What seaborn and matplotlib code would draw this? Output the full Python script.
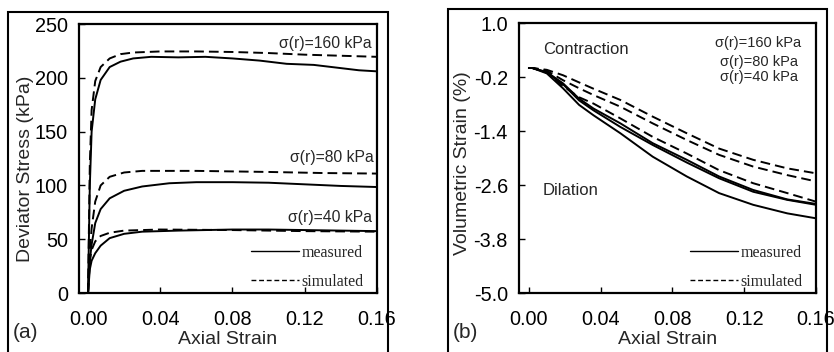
import numpy as np
import pandas as pd
import seaborn as sns
import matplotlib
matplotlib.use("Agg")
import matplotlib.pyplot as plt
from matplotlib.lines import Line2D
from matplotlib.patches import Rectangle

# ---------------- data: panel (a) deviator stress ----------------
a160_sim_x = [0, 0.001, 0.002, 0.004, 0.007, 0.012, 0.018, 0.025, 0.04, 0.06, 0.08, 0.10, 0.12, 0.14, 0.16]
a160_sim_y = [0, 120, 170, 197, 210, 218, 222, 223.5, 224.5, 224.5, 224, 223, 221.5, 220.5, 219.5]
a160_mea_x = [0, 0.001, 0.002, 0.004, 0.007, 0.012, 0.018, 0.025, 0.035, 0.05, 0.065, 0.08, 0.095, 0.11, 0.125, 0.14, 0.15, 0.16]
a160_mea_y = [0, 100, 150, 180, 198, 210, 215, 218, 219.5, 219, 219.5, 218, 216, 213, 212, 209, 207, 206]

a80_sim_x = [0, 0.001, 0.002, 0.004, 0.007, 0.012, 0.02, 0.03, 0.06, 0.10, 0.13, 0.16]
a80_sim_y = [0, 40, 60, 85, 100, 108, 112, 113.5, 113.5, 112.5, 111.5, 111]
a80_mea_x = [0, 0.001, 0.002, 0.004, 0.007, 0.012, 0.02, 0.03, 0.045, 0.06, 0.08, 0.10, 0.12, 0.14, 0.16]
a80_mea_y = [0, 30, 45, 65, 78, 88, 95, 99, 102, 103, 103, 102.5, 101, 99.5, 98.5]

a40_sim_x = [0, 0.001, 0.002, 0.004, 0.007, 0.012, 0.02, 0.04, 0.08, 0.12, 0.16]
a40_sim_y = [0, 30, 40, 48, 53, 56, 58, 59, 58.5, 57.5, 57]
a40_mea_x = [0, 0.001, 0.002, 0.004, 0.007, 0.012, 0.02, 0.03, 0.05, 0.08, 0.10, 0.12, 0.14, 0.16]
a40_mea_y = [0, 22, 30, 37, 44, 51, 55, 57, 58, 59, 59, 58.5, 58, 57.5]

# ---------------- data: panel (b) volumetric strain ----------------
b_x = [0, 0.002, 0.01, 0.019, 0.028, 0.036, 0.051, 0.069, 0.088, 0.106, 0.125, 0.144, 0.16]
b_sim_1 = [0, 0, -0.04, -0.16, -0.32, -0.46, -0.71, -1.08, -1.45, -1.79, -2.04, -2.23, -2.34]
b_sim_2 = [0, 0, -0.06, -0.27, -0.45, -0.60, -0.86, -1.23, -1.60, -1.93, -2.19, -2.38, -2.52]
b_sim_3 = [0, 0, -0.10, -0.40, -0.65, -0.79, -1.12, -1.53, -1.90, -2.27, -2.56, -2.78, -2.97]
b_mea_1 = [0, 0, -0.09, -0.34, -0.68, -0.90, -1.23, -1.67, -2.04, -2.41, -2.71, -2.92, -3.02]
b_mea_2 = [0, 0, -0.10, -0.36, -0.72, -0.94, -1.31, -1.71, -2.10, -2.45, -2.75, -2.93, -3.04]
b_mea_3 = [0, 0, -0.12, -0.45, -0.82, -1.05, -1.45, -1.97, -2.41, -2.78, -3.04, -3.23, -3.34]

a_yticks = [0, 50, 100, 150, 200, 250]
b_yticks = [1.0, -0.2, -1.4, -2.6, -3.8, -5.0]
xticks = [0.00, 0.04, 0.08, 0.12, 0.16]
pressure_labels = ["σ(r)=160 kPa", "σ(r)=80 kPa", "σ(r)=40 kPa"]
legend_labels = ["measured", "simulated"]

# ---------------- style ----------------
sns.set_theme(style="ticks")
plt.rcParams["font.family"] = ["Liberation Sans", "DejaVu Sans"]

fig = plt.figure(figsize=(8.34, 3.52), dpi=100)
axA = fig.add_axes([0.0947, 0.1676, 0.3573, 0.7642])
axB = fig.add_axes([0.6223, 0.1676, 0.3561, 0.7670])

DASH = (0, (5, 2.6))
LW = 1.4

def draw(ax, xs, ys, dashed):
    sns.lineplot(x=xs, y=ys, ax=ax, color="black", lw=LW, estimator=None, sort=False,
                 linestyle=DASH if dashed else "-")

for xs, ys in [(a160_mea_x, a160_mea_y), (a80_mea_x, a80_mea_y), (a40_mea_x, a40_mea_y)]:
    draw(axA, xs, ys, False)
for xs, ys in [(a160_sim_x, a160_sim_y), (a80_sim_x, a80_sim_y), (a40_sim_x, a40_sim_y)]:
    draw(axA, xs, ys, True)
for ys in [b_mea_1, b_mea_2, b_mea_3]:
    draw(axB, b_x, ys, False)
for ys in [b_sim_1, b_sim_2, b_sim_3]:
    draw(axB, b_x, ys, True)

# axes setup
axA.set_xlim(-0.005, 0.16)
axA.set_ylim(0, 250)
axA.set_yticks(a_yticks)
axA.set_yticklabels([str(v) for v in a_yticks])
axB.set_xlim(-0.0055, 0.16)
axB.set_ylim(-5.0, 1.0)
axB.set_yticks(b_yticks)
axB.set_yticklabels([f"{v:.1f}" for v in b_yticks])

for ax in (axA, axB):
    ax.set_xticks(xticks)
    ax.set_xticklabels([f"{v:.2f}" for v in xticks])
    ax.tick_params(axis="both", direction="in", length=4, width=1, colors="black", labelsize=14.3)
    ax.tick_params(axis="x", pad=12)
    ax.tick_params(axis="y", pad=8)
    for sp in ax.spines.values():
        sp.set_visible(True)
        sp.set_linewidth(1.6)
        sp.set_color("black")
    ax.set_xlabel("Axial Strain", fontsize=14, labelpad=0)
    ax.xaxis.set_label_coords(0.5, -0.14)

axA.set_ylabel("Deviator Stress (kPa)", fontsize=14)
axA.yaxis.set_label_coords(-0.152, 0.46)
axB.set_ylabel("Volumetric Strain (%)", fontsize=14)
axB.yaxis.set_label_coords(-0.163, 0.48)

# annotations panel (a)
axA.text(0.157, 232, pressure_labels[0], ha="right", va="center", fontsize=11.3)
axA.text(0.158, 125.5, pressure_labels[1], ha="right", va="center", fontsize=11.3)
axA.text(0.157, 70.6, pressure_labels[2], ha="right", va="center", fontsize=11.3)

# annotations panel (b)
axB.text(0.0078, 0.42, "Contraction", ha="left", va="center", fontsize=12)
axB.text(0.0078, -2.73, "Dilation", ha="left", va="center", fontsize=12)
axB.text(0.128, 0.556, pressure_labels[0], ha="center", va="center", fontsize=10.5)
axB.text(0.128, 0.133, pressure_labels[1], ha="center", va="center", fontsize=10.5)
axB.text(0.128, -0.20, pressure_labels[2], ha="center", va="center", fontsize=10.5)

# legends
handles = [Line2D([], [], color="black", lw=1.0),
           Line2D([], [], color="black", lw=1.0, linestyle=(0, (3.5, 2)))]
for ax in (axA, axB):
    ax.legend(handles, legend_labels, loc="lower right", bbox_to_anchor=(0.965, 0.0),
              frameon=False, prop={"family": "Liberation Serif", "size": 11.5},
              handlelength=3.0, handletextpad=0.15, labelspacing=0.8,
              borderaxespad=0.0, borderpad=0.2)

# panel letters
fig.text(13 / 834, 1 - 333 / 352, "(a)", fontsize=15, ha="left", va="center")
fig.text(453 / 834, 1 - 333 / 352, "(b)", fontsize=15, ha="left", va="center")

# outer panel boxes
fig.add_artist(Rectangle((8 / 834, -0.1), 380 / 834, (352 - 12) / 352 + 0.1,
                         transform=fig.transFigure, fill=False, lw=1.5, ec="black"))
fig.add_artist(Rectangle((448 / 834, -0.1), 379 / 834, (352 - 9) / 352 + 0.1,
                         transform=fig.transFigure, fill=False, lw=1.5, ec="black"))

fig.savefig("out.png", dpi=100, facecolor="white")
